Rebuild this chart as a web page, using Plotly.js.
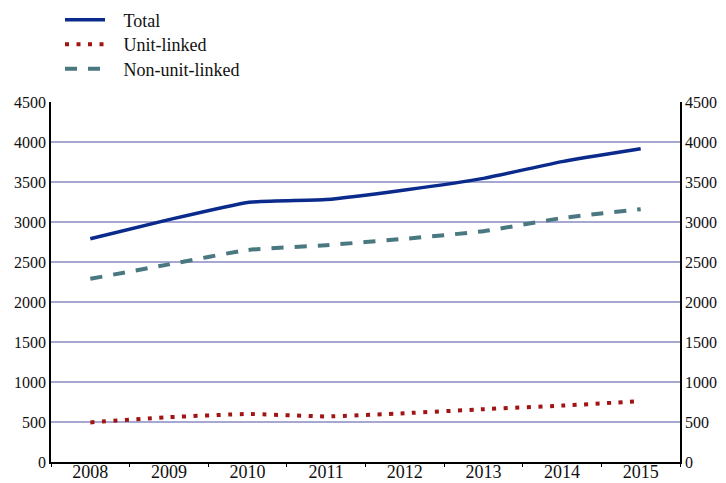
<!DOCTYPE html>
<html>
<head>
<meta charset="utf-8">
<script src="https://cdn.plot.ly/plotly-3.0.1.min.js"></script>
</head>
<body style="margin:0;background:#fff">
<div style="position:absolute;left:0;top:0;font-family:'Liberation Serif';font-size:18px;color:rgba(255,255,255,0);">Total 2008</div>
<div id="chart" style="width:726px;height:483px"></div>
<script>
var years = ['2008','2009','2010','2011','2012','2013','2014','2015'];
var total = [2790, 3030, 3245, 3280, 3400, 3545, 3755, 3915];
var unitLinked = [495, 560, 600, 570, 610, 660, 705, 760];
var nonUnitLinked = [2290, 2470, 2650, 2710, 2790, 2885, 3050, 3160];
var yTicks = [0, 500, 1000, 1500, 2000, 2500, 3000, 3500, 4000, 4500];
var seriesNames = ['Total', 'Unit-linked', 'Non-unit-linked'];

var serifFamily = 'Liberation Serif';
var pad = '\u2002\u2005';
var traces = [
  {x: years, y: total, name: pad + seriesNames[0], type: 'scatter', mode: 'lines', legend: 'legend',
   line: {color: '#0a2a8c', width: 3.5, shape: 'spline', smoothing: 0.4}},
  {x: years, y: unitLinked, name: pad + seriesNames[1], type: 'scatter', mode: 'lines', legend: 'legend2',
   line: {color: '#a01414', width: 4, dash: '4px,7.5px', shape: 'spline', smoothing: 0.4}},
  {x: years, y: nonUnitLinked, name: pad + seriesNames[2], type: 'scatter', mode: 'lines', legend: 'legend3',
   line: {color: '#4a7880', width: 4, dash: '12px,11px', shape: 'spline', smoothing: 0.4}},
  {x: years, y: total, xaxis: 'x2', yaxis: 'y2', type: 'scatter', mode: 'lines', showlegend: false,
   hoverinfo: 'skip', line: {color: 'rgba(0,0,0,0)', width: 0}}
];
function legendAt(yPx) {
  return {xref: 'container', yref: 'container', x: 60 / 726, y: 1 - yPx / 483, xanchor: 'left', yanchor: 'middle',
          font: {family: serifFamily, size: 18, color: '#111'}, itemwidth: 40, bgcolor: 'rgba(0,0,0,0)'};
}
var yTickFont = {family: serifFamily, size: 16, color: '#111'};
var layout = {
  width: 726, height: 483,
  margin: {l: 51, r: 46, t: 102, b: 21, autoexpand: false},
  paper_bgcolor: '#fff', plot_bgcolor: '#fff',
  font: {family: serifFamily, size: 16, color: '#111'},
  showlegend: true,
  legend: legendAt(20),
  legend2: legendAt(44.5),
  legend3: legendAt(69),
  xaxis: {type: 'category', range: [-0.5, 7.5], showgrid: false, showline: true, linecolor: '#000', linewidth: 1.5,
          ticks: '', ticklabelstandoff: -7, tickfont: {family: serifFamily, size: 18, color: '#111'}, zeroline: false},
  xaxis2: {type: 'category', range: [-0.5, 7.5], overlaying: 'x', anchor: 'y2', side: 'bottom', showgrid: false,
           showline: false, showticklabels: false, ticks: 'outside', tickson: 'boundaries', ticklen: 4,
           tickcolor: '#000', tickwidth: 1, zeroline: false},
  yaxis: {range: [0, 4500], tickvals: yTicks, showgrid: true, gridcolor: '#a6a8d2', gridwidth: 1.5,
          showline: true, linecolor: '#000', linewidth: 1.5, ticks: '', zeroline: false, tickfont: yTickFont},
  yaxis2: {range: [0, 4500], tickvals: yTicks, overlaying: 'y', side: 'right', anchor: 'x2', showgrid: false,
           showline: true, linecolor: '#000', linewidth: 1.5, ticks: '', zeroline: false, tickfont: yTickFont}
};
var config = {displayModeBar: false};
function draw() { return Plotly.newPlot('chart', traces, layout, config); }
draw();
if (document.fonts && document.fonts.load) {
  Promise.all([
    document.fonts.load('16px "Liberation Serif"'),
    document.fonts.load('18px "Liberation Serif"')
  ]).then(draw, function () {});
}
setTimeout(draw, 300);
</script>
</body>
</html>
